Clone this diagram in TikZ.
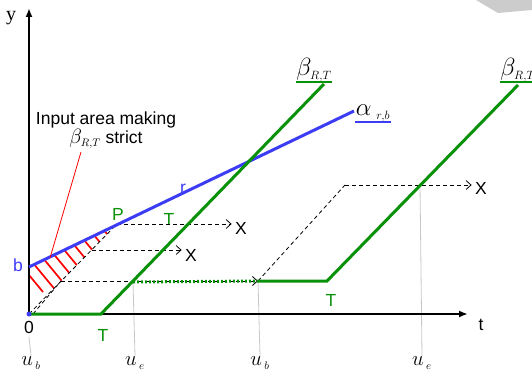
\documentclass[tikz,border=0pt]{standalone}
\usepackage{fontspec}
\setmainfont{Liberation Sans}
\newfontfamily\serifont{Liberation Serif}
\usetikzlibrary{arrows.meta}
\definecolor{curvegreen}{RGB}{10,145,10}
\definecolor{curveblue}{RGB}{60,60,245}
\tikzset{
	axis/.style={line width=2.4pt, -{Latex[length=9pt,width=7pt]}},
	betaline/.style={curvegreen, line width=3pt},
	alphaline/.style={curveblue, line width=3pt},
	dashline/.style={line width=0.8pt, dash pattern=on 4pt off 3pt},
	dasharrow/.style={dashline, -{Straight Barb[length=5pt,width=9pt]}},
	guideline/.style={black!22, line width=0.8pt},
	hatchline/.style={red, line width=1.7pt},
	bigmath/.style={font=\fontsize{21}{23}\selectfont, inner sep=1pt},
	greekmath/.style={font=\fontsize{25}{27}\selectfont, inner sep=0.5pt}
}

\begin{document}
\begin{tikzpicture}[x=1pt, y=-1pt, font=\fontsize{17.5}{20}\selectfont]
				\useasboundingbox (0,0) rectangle (532,374);
				\fill[black!20] (476,0) -- (532,0) -- (532,10) -- (498,13) -- cycle;
				% points of the curves
				\coordinate (O) at (29,314);
				\coordinate (Ytop) at (29,8);
				\coordinate (Xend) at (468,314);
				\coordinate (b) at (29,267);
				\coordinate (P) at (117,224);
				\coordinate (A) at (354,111);
				\coordinate (T1) at (101,314);
				\coordinate (B1) at (324,84);
				\coordinate (E1) at (133,282);
				\coordinate (U2) at (258,281);
				\coordinate (T2) at (327,281);
				\coordinate (B2) at (518,85);
				\coordinate (Q1) at (92,250);
				\coordinate (Q2) at (61,281);
				\coordinate (D) at (345,185);
				\coordinate (E2) at (420,185);
				% hatched input area
				\begin{scope}
					\clip (O) -- (b) -- (P) -- cycle;
					\foreach \c in {-61,-47,-33,-19,-5,9,23,37,51,65,79}
						\draw[hatchline] (\c,200) -- ++(76,92);
				\end{scope}
				% labels
				\node (y) at (11,18) {\serifont\fontsize{20}{22}\selectfont y};
				\node (t) at (481,325) {t};
				\node (zero) at (29,327) {0};
				\node[bigmath] (ub1) at (31,363) {$u_{\,\scriptscriptstyle b}$};
				\node[bigmath] (ue1) at (135,363) {$u_{\,\scriptscriptstyle e}$};
				\node[bigmath] (ub2) at (260,363) {$u_{\,\scriptscriptstyle b}$};
				\node[bigmath] (ue2) at (422,363) {$u_{\,\scriptscriptstyle e}$};
				\node[curveblue] (lb) at (18,265) {b};
				\node[curveblue] (lr) at (183,189) {r};
				\node[curvegreen] (lP) at (118,214) {P};
				\node[curvegreen] (lT1) at (169,219) {T};
				\node[curvegreen] (lT2) at (103,335) {T};
				\node[curvegreen] (lT3) at (331,300) {T};
				\node (x1) at (241,228) {X};
				\node (x2) at (191,255) {X};
				\node (x3) at (481,188) {X};
				\node[greekmath] (lbeta1) at (314,70) {$\beta_{\scriptscriptstyle R,T}$};
				\node[greekmath] (lbeta2) at (518,70) {$\beta_{\scriptscriptstyle R,T}$};
				\node[greekmath] (lalpha) at (373,113) {$\alpha_{\;\scriptscriptstyle r,b}$};
				\node[align=center] (note) at (106,130) {Input area making\\[-1pt]{\fontsize{21}{23}\selectfont$\beta_{\scriptscriptstyle R,T}$} strict};
				% guides
				\draw[guideline] (zero.south) -- (ub1.north);
				\draw[guideline] (E1) -- (ue1.north);
				\draw[guideline] (U2) -- (ub2.north);
				\draw[guideline] (E2) -- (ue2.north);
				% axes
				\draw[axis] (O) -- (Ytop);
				\draw[axis] (O) -- (Xend);
				% dashed moves
				\draw[dashline] (O) -- (P);
				\draw[dashline] ([xshift=4pt]O) -- (Q2);
				\draw[dasharrow] (P) -- (P -| x1.west);
				\draw[dasharrow] (Q1) -- (Q1 -| x2.west);
				\draw[dasharrow] (Q2) -- (U2);
				\draw[dashline] (U2) -- (D);
				\draw[dasharrow] (D) -- (D -| x3.west);
				% curves
				\draw[alphaline] (b) -- (A);
				\draw[curveblue, line width=1.5pt] (lalpha.south west) -- (lalpha.south east);
				\draw[betaline] (O) -- (T1) -- (B1);
				\draw[betaline, dash pattern=on 2pt off 2pt] (E1) -- (U2);
				\draw[betaline] (U2) -- (T2) -- (B2);
				\draw[curvegreen, line width=2pt] (lbeta1.south west) -- (lbeta1.south east);
				\draw[curvegreen, line width=2pt] (lbeta2.south west) -- (lbeta2.south east);
				\fill[curveblue] (O) circle (2.5pt);
				\draw[red, line width=0.8pt] ([xshift=-25pt]note.south) -- (50,258);
			\end{tikzpicture}
\end{document}
